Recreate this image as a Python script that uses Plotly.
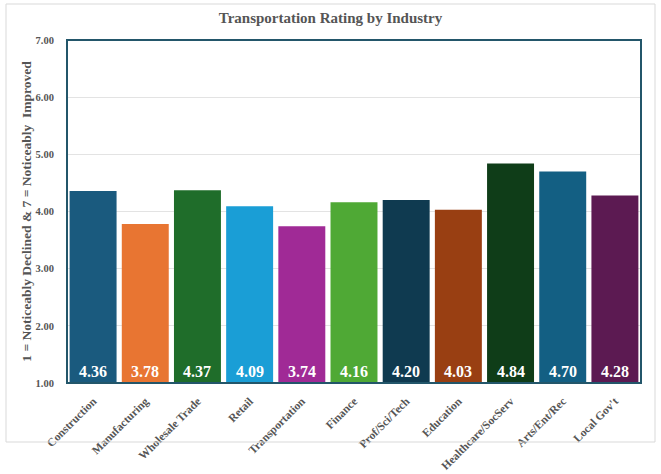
import plotly.graph_objects as go

industries = ["Construction", "Manufacturing", "Wholesale Trade", "Retail",
              "Transportation", "Finance", "Prof/Sci/Tech", "Education",
              "Healthcare/SocServ", "Arts/Ent/Rec", "Local Gov't"]
ratings = [4.36, 3.78, 4.37, 4.09, 3.74, 4.16, 4.20, 4.03, 4.84, 4.70, 4.28]
bar_colors = ["#1a5a7e", "#e87532", "#1f6d2a", "#1a9ed6", "#a02a96", "#4fa935",
              "#0f3a50", "#993f12", "#0f3d18", "#135f83", "#5c1a52"]
y_ticks = [1, 2, 3, 4, 5, 6, 7]

SERIF = "Liberation Serif"
BASE = 1.0

fig = go.Figure()
fig.add_trace(go.Bar(
    x=industries,
    y=[r - BASE for r in ratings],
    base=BASE,
    marker=dict(color=bar_colors, line=dict(width=0)),
    customdata=ratings,
    hovertemplate="%{x}: %{customdata:.2f}<extra></extra>",
))

# value labels sitting at the foot of each bar
for name, r in zip(industries, ratings):
    fig.add_annotation(
        x=name, y=BASE, xref="x", yref="y",
        text=f"<b>{r:.2f}</b>", showarrow=False,
        yanchor="bottom", yshift=1,
        font=dict(family=SERIF, size=16, color="white"),
    )

fig.update_layout(
    width=661, height=474,
    margin=dict(l=67, r=20, t=40, b=91),
    paper_bgcolor="white",
    plot_bgcolor="white",
    bargap=0.1,
    showlegend=False,
    font=dict(family=SERIF),
    title=dict(text="<b>Transportation Rating by Industry</b>",
               x=0.5, xanchor="center", y=0.962, yanchor="middle",
               font=dict(family=SERIF, size=15, color="#555555")),
    xaxis=dict(
        automargin=False,
        tickangle=-45,
        tickvals=industries,
        ticktext=[f"<b>{c}</b>" for c in industries],
        tickfont=dict(family=SERIF, size=11.5, color="#555555"),
        showline=False, showgrid=False,
        ticks="outside", ticklen=6, tickcolor="rgba(0,0,0,0)",
    ),
    yaxis=dict(
        automargin=False,
        range=[1, 7],
        tickvals=y_ticks,
        ticktext=[f"<b>{v:.2f}</b>" for v in y_ticks],
        tickfont=dict(family=SERIF, size=10.5, color="#555555"),
        showgrid=True, gridcolor="#e3e3e3", gridwidth=1,
        zeroline=False, showline=False,
        ticks="outside", ticklen=10, tickcolor="rgba(0,0,0,0)",
        title=dict(text="<b>1 = Noticeably Declined &amp; 7 = Noticeably  Improved</b>",
                   font=dict(family=SERIF, size=13.5, color="#555555"), standoff=0),
    ),
    shapes=[
        # frame around the plotting area
        dict(type="rect", xref="paper", yref="paper", x0=0, x1=1, y0=0, y1=1,
             line=dict(color="#23566a", width=2), fillcolor="rgba(0,0,0,0)", layer="above"),
        # thin outer border around the whole chart
        dict(type="rect", xref="paper", yref="paper",
             x0=(6 - 67) / 574, x1=(655 - 67) / 574,
             y0=(383 - 442) / 343, y1=(383 - 4) / 343,
             line=dict(color="#d9d9d9", width=1), fillcolor="rgba(0,0,0,0)"),
    ],
)

fig.write_html("out.html")
